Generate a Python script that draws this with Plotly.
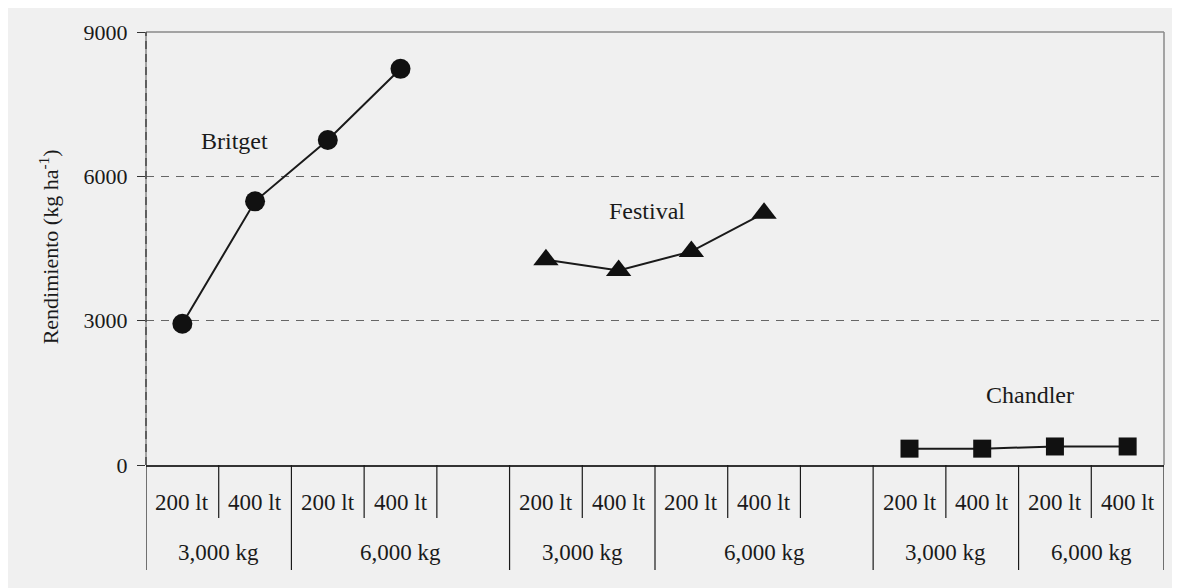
import plotly.graph_objects as go

varieties = ["Britget", "Festival", "Chandler"]
dose_labels = ["200 lt", "400 lt", "200 lt", "400 lt"]
compost_labels = ["3,000 kg", "6,000 kg"]
britget = [2935, 5480, 6755, 8235]
festival = [4265, 4045, 4440, 5235]
chandler = [340, 340, 385, 385]
y_ticks = [0, 3000, 6000, 9000]

series = [britget, festival, chandler]
symbols = ["circle", "triangle-up", "square"]
sizes = [20, 22, 18]
group_start = [0, 5, 10]

FONT = "Liberation Serif, Times New Roman, DejaVu Serif, serif"
INK = "#1a1a1a"
BG = "#f0f0f0"

fig = go.Figure()
for vals, sym, sz, start, name in zip(series, symbols, sizes, group_start, varieties):
    xs = [start + i for i in range(len(vals))]
    fig.add_trace(go.Scatter(
        x=xs, y=vals, mode="lines+markers", name=name,
        line=dict(color=INK, width=2),
        marker=dict(symbol=sym, size=sz, color="#111111"),
        showlegend=False, cliponaxis=False,
    ))

shapes = []
shapes.append(dict(type="line", xref="paper", yref="paper", x0=0, x1=1, y0=1, y1=1,
                   line=dict(color="#8a8a8a", width=1.5)))
shapes.append(dict(type="line", xref="paper", yref="paper", x0=1, x1=1, y0=0, y1=1,
                   line=dict(color="#8a8a8a", width=1.5)))
shapes.append(dict(type="line", xref="paper", yref="paper", x0=0, x1=0, y0=0, y1=1,
                   line=dict(color="#8a8a8a", width=1.5)))
shapes.append(dict(type="line", xref="paper", yref="paper", x0=0, x1=0, y0=0, y1=1,
                   line=dict(color="#333333", width=1.2, dash="8px,5px")))

annotations = []
row1_y = -0.0855
row2_y = -0.201
short_end = -0.1224
long_end = -0.2425
for start in group_start:
    for i, lab in enumerate(dose_labels):
        annotations.append(dict(x=start + i, y=row1_y, xref="x", yref="paper", text=lab,
                                xanchor="center", yanchor="middle", showarrow=False,
                                font=dict(family=FONT, size=23, color=INK)))
spans = [(-0.5, 1.5), (1.5, 4.5), (4.5, 6.5), (6.5, 9.5), (9.5, 11.5), (11.5, 13.5)]
for k, (a, b) in enumerate(spans):
    annotations.append(dict(x=(a + b) / 2, y=row2_y, xref="x", yref="paper",
                            text=compost_labels[k % 2], xanchor="center", yanchor="middle",
                            showarrow=False, font=dict(family=FONT, size=23, color=INK)))
long_lines = [-0.5, 1.5, 4.5, 6.5, 9.5, 11.5, 13.5]
short_lines = [0.5, 2.5, 3.5, 5.5, 7.5, 8.5, 10.5, 12.5]
for xv in long_lines:
    shapes.append(dict(type="line", xref="x", yref="paper", x0=xv, x1=xv, y0=0, y1=long_end,
                       line=dict(color=INK, width=1.2)))
for xv in short_lines:
    shapes.append(dict(type="line", xref="x", yref="paper", x0=xv, x1=xv, y0=0, y1=short_end,
                       line=dict(color=INK, width=1.2)))

label_pos = [(0.72, 6726), (6.39, 5270), (11.66, 1445)]
for name, (lx, ly) in zip(varieties, label_pos):
    annotations.append(dict(x=lx, y=ly, xref="x", yref="y", text=name, showarrow=False,
                            xanchor="center", yanchor="middle",
                            font=dict(family=FONT, size=24, color=INK)))

annotations.append(dict(x=-0.0953, y=0.505, xref="paper", yref="paper",
                        text="Rendimiento (kg ha<sup>-1</sup>)", textangle=-90, showarrow=False,
                        xanchor="center", yanchor="middle",
                        font=dict(family=FONT, size=22, color=INK)))

fig.update_layout(
    width=1180, height=588,
    margin=dict(l=138, r=24, t=24, b=131),
    paper_bgcolor=BG, plot_bgcolor=BG,
    shapes=shapes, annotations=annotations,
    xaxis=dict(range=[-0.5, 13.5], showgrid=False, zeroline=False, showticklabels=False,
               ticks="", showline=True, linecolor="#333333", linewidth=1.5),
    yaxis=dict(range=[0, 9000], tickvals=y_ticks, ticktext=[str(v) for v in y_ticks],
               showgrid=True, gridcolor="#666666", griddash="8px,7px", gridwidth=1,
               zeroline=False, showline=False, ticks="outside", ticklen=8,
               tickcolor="#333333", tickwidth=1.2, ticklabelstandoff=5,
               tickfont=dict(family=FONT, size=22, color=INK)),
)

fig.write_html("out.html")
